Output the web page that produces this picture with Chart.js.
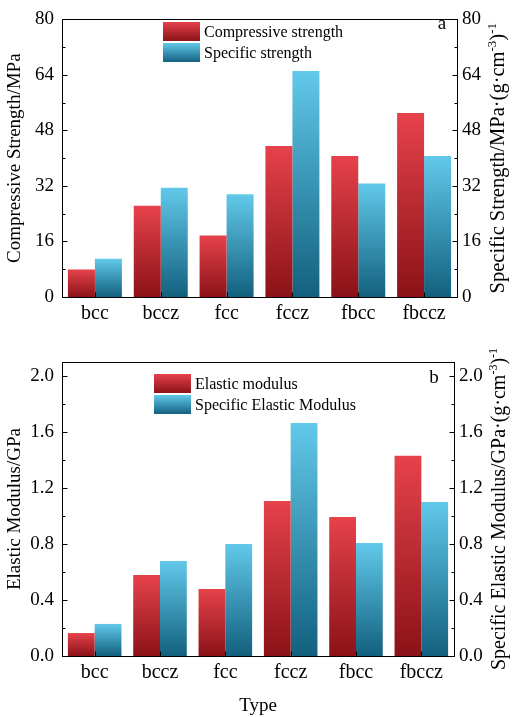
<!DOCTYPE html>
<html>
<head>
<meta charset="utf-8">
<script src="https://cdn.jsdelivr.net/npm/chart.js@4/dist/chart.umd.min.js"></script>
<style>
  html, body { margin: 0; padding: 0; background: #fff; }
  body { width: 512px; height: 717px; position: relative; overflow: hidden; }
  .wrap { position: absolute; left: 0; width: 512px; }
  #w1 { top: 0; height: 330px; }
  #w2 { top: 330px; height: 387px; }
</style>
</head>
<body>
<div class="wrap" id="w1"><canvas id="c1" width="512" height="330"></canvas></div>
<div class="wrap" id="w2"><canvas id="c2" width="512" height="387"></canvas></div>
<script>
// ---- data ----
const categories = ['bcc', 'bccz', 'fcc', 'fccz', 'fbcc', 'fbccz'];
const compressiveStrength = [7.9, 26.3, 17.7, 43.5, 40.6, 53.0];
const specificStrength = [11.0, 31.5, 29.6, 65.1, 32.7, 40.6];
const elasticModulus = [0.164, 0.579, 0.479, 1.107, 0.993, 1.43];
const specificElasticModulus = [0.229, 0.679, 0.80, 1.664, 0.807, 1.10];
const strengthTicks = [0, 16, 32, 48, 64, 80];
const modulusTicks = [0, 0.4, 0.8, 1.2, 1.6, 2.0];

const FONT = "'Liberation Serif', 'Times New Roman', serif";
const RED = ['#e6424b', '#8b1218'];
const BLUE = ['#62c9ea', '#12607e'];

function barGradient(cols) {
  return function (ctx) {
    const chart = ctx.chart;
    if (ctx.type !== 'data' || !chart.chartArea) return cols[0];
    const meta = chart.getDatasetMeta(ctx.datasetIndex);
    const scale = chart.scales[meta.yAxisID];
    if (!scale) return cols[0];
    const yTop = scale.getPixelForValue(ctx.raw);
    const yBase = scale.getPixelForValue(0);
    if (!isFinite(yTop) || !isFinite(yBase) || Math.abs(yBase - yTop) < 1) return cols[0];
    const g = chart.ctx.createLinearGradient(0, yTop, 0, yBase);
    g.addColorStop(0, cols[0]);
    g.addColorStop(1, cols[1]);
    return g;
  };
}

function framePlugin(opts) {
  return {
    id: 'frame',
    afterDatasetsDraw(chart) {
      const c = chart.ctx, a = chart.chartArea;
      c.save();
      c.strokeStyle = '#000';
      c.lineWidth = 1;
      c.strokeRect(Math.round(a.left) + 0.5, Math.round(a.top) + 0.5,
                   Math.round(a.right - a.left), Math.round(a.bottom - a.top));
      // inward ticks on y axes
      ['y', 'y2'].forEach(id => {
        const s = chart.scales[id];
        const isLeft = id === 'y';
        const x0 = isLeft ? Math.round(a.left) + 0.5 : Math.round(a.right) + 0.5;
        const dir = isLeft ? 1 : -1;
        const vals = s.ticks.map(t => t.value);
        c.beginPath();
        vals.forEach((v, i) => {
          const y = Math.round(s.getPixelForValue(v)) + 0.5;
          c.moveTo(x0, y); c.lineTo(x0 + dir * 5, y);
          if (i < vals.length - 1) {
            const m = (v + vals[i + 1]) / 2;
            const ym = Math.round(s.getPixelForValue(m)) + 0.5;
            c.moveTo(x0, ym); c.lineTo(x0 + dir * 3, ym);
          }
        });
        c.stroke();
      });
      // inward ticks on x axis at category centres
      const xs = chart.scales.x;
      c.beginPath();
      categories.forEach((_, i) => {
        const x = Math.round(xs.getPixelForValue(i)) + 0.5;
        c.moveTo(x, Math.round(a.bottom) + 0.5);
        c.lineTo(x, Math.round(a.bottom) - 4.5);
      });
      c.stroke();

      // legend
      c.textBaseline = 'middle';
      c.textAlign = 'left';
      c.font = '16px ' + FONT;
      opts.legend.forEach((it, i) => {
        const bx = opts.legendX, by = opts.legendY + i * 21, bw = 37, bh = 19;
        const g = c.createLinearGradient(0, by, 0, by + bh);
        g.addColorStop(0, it.cols[0]);
        g.addColorStop(1, it.cols[1]);
        c.fillStyle = g;
        c.fillRect(bx, by, bw, bh);
        c.fillStyle = '#000';
        c.fillText(it.label, bx + bw + 4, by + bh / 2 + 1);
      });

      // panel letter
      c.font = '19px ' + FONT;
      c.textAlign = 'center';
      c.fillStyle = '#000';
      c.fillText(opts.letter, opts.letterX, opts.letterY);

      // right axis title (reads bottom-to-top, with superscripts)
      const parts = opts.rightTitle;
      const big = opts.rightTitleSize + 'px ' + FONT, small = Math.round(opts.rightTitleSize * 0.62) + 'px ' + FONT;
      let total = 0;
      parts.forEach(p => { c.font = p.sup ? small : big; total += c.measureText(p.t).width; });
      c.save();
      c.translate(opts.rightTitleX, (a.top + a.bottom) / 2);
      c.rotate(-Math.PI / 2);
      c.textAlign = 'left';
      c.textBaseline = 'alphabetic';
      let x = -total / 2;
      parts.forEach(p => {
        c.font = p.sup ? small : big;
        c.fillText(p.t, x, p.sup ? -8 : 0);
        x += c.measureText(p.t).width;
      });
      c.restore();
      c.restore();
    }
  };
}

function makeChart(canvasId, d1, d2, lab1, lab2, ymax, tickVals, fmt, leftTitle, xTitle, padTop, xAxisH, rightEdge, plugOpts) {
  const ctx = document.getElementById(canvasId);
  const yCommon = (pos, w, pad) => ({
    type: 'linear',
    position: pos,
    min: 0,
    max: ymax,
    grid: { display: false, drawTicks: false },
    border: { display: false },
    afterBuildTicks: s => { s.ticks = tickVals.map(v => ({ value: v })); },
    afterFit: s => { s.width = w; },
    ticks: {
      padding: pad,
      color: '#000',
      font: { family: FONT, size: 19 },
      callback: v => fmt(v)
    }
  });
  const yLeft = yCommon('left', 62, 8);
  yLeft.title = { display: true, text: leftTitle, color: '#000', font: { family: FONT, size: 19 }, padding: { top: 4, bottom: 0 } };
  const yRight = yCommon('right', 512 - rightEdge, 5);
  return new Chart(ctx, {
    type: 'bar',
    data: {
      labels: categories,
      datasets: [
        { label: lab1, data: d1, yAxisID: 'y', backgroundColor: barGradient(RED), borderWidth: 0 },
        { label: lab2, data: d2, yAxisID: 'y2', backgroundColor: barGradient(BLUE), borderWidth: 0 }
      ]
    },
    options: {
      responsive: false,
      animation: false,
      devicePixelRatio: 1,
      layout: { padding: { top: padTop, left: 0, right: 0, bottom: 0 } },
      datasets: { bar: { categoryPercentage: 0.82, barPercentage: 1.0 } },
      plugins: { legend: { display: false }, tooltip: { enabled: false } },
      scales: {
        x: {
          grid: { display: false, drawTicks: false },
          border: { display: false },
          afterFit: s => { s.height = xAxisH; },
          ticks: { padding: 5, color: '#000', font: { family: FONT, size: 20 } },
          title: xTitle ? { display: true, text: xTitle, color: '#000', font: { family: FONT, size: 19 }, padding: { top: 8, bottom: 0 } } : { display: false }
        },
        y: yLeft,
        y2: yRight
      }
    },
    plugins: [framePlugin(plugOpts)]
  });
}

makeChart('c1', compressiveStrength, specificStrength,
  'Compressive strength', 'Specific strength', 80, strengthTicks, v => String(v),
  'Compressive Strength/MPa', null, 12, 33, 457,
  {
    legend: [{ label: 'Compressive strength', cols: RED }, { label: 'Specific strength', cols: BLUE }],
    legendX: 163, legendY: 22, letter: 'a', letterX: 442, letterY: 24,
    rightTitleX: 504, rightTitleSize: 20.5,
    rightTitle: [{ t: 'Specific Strength/MPa·(g·cm' }, { t: '-3', sup: true }, { t: ')' }, { t: '-1', sup: true }]
  });

makeChart('c2', elasticModulus, specificElasticModulus,
  'Elastic modulus', 'Specific Elastic Modulus', 2.1, modulusTicks, v => Number(v).toFixed(1),
  'Elastic Modulus/GPa', 'Type', 32, 61, 454,
  {
    legend: [{ label: 'Elastic modulus', cols: RED }, { label: 'Specific Elastic Modulus', cols: BLUE }],
    legendX: 154, legendY: 44, letter: 'b', letterX: 434, letterY: 48,
    rightTitleX: 505, rightTitleSize: 20,
    rightTitle: [{ t: 'Specific Elastic Modulus/GPa·(g·cm' }, { t: '-3', sup: true }, { t: ')' }, { t: '-1', sup: true }]
  });
</script>
</body>
</html>
